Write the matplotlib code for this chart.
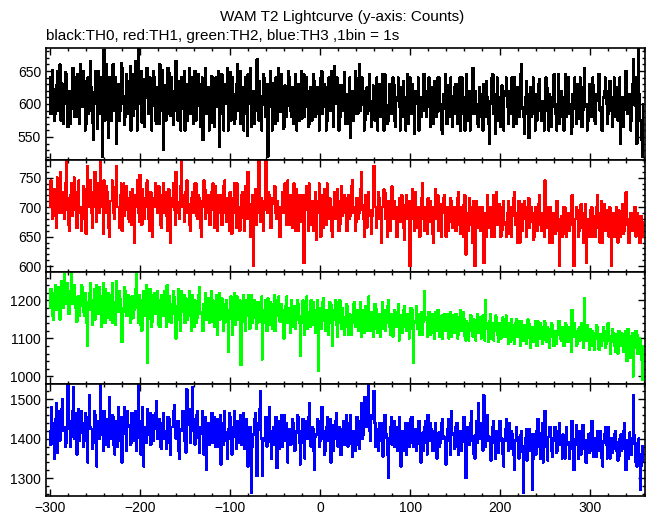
import numpy as np
import matplotlib
matplotlib.use("Agg")
import matplotlib.pyplot as plt
from matplotlib.ticker import MultipleLocator

plt.rcParams['font.family'] = ['Liberation Sans', 'DejaVu Sans']

# time bins (s), 1 s per bin, starting at -300 s
time_start = -300
time_step = 1

th0 = [640,585,598,652,622,575,585,628,650,590,610,660,575,632,630,570,600,648,645,595,565,620,618,570,592,655,655,580,605,640,
       580,645,628,570,660,612,596,650,612,560,570,635,640,585,590,665,625,572,545,618,615,650,600,562,650,595,585,640,520,610,
       682,575,620,660,598,548,640,615,575,652,660,590,605,640,540,610,630,575,590,662,655,600,612,568,580,645,635,585,600,658,
       560,628,645,582,618,665,592,560,685,615,600,650,572,630,638,565,610,655,655,585,585,640,625,560,598,650,640,575,570,625,
       612,570,660,615,590,652,530,600,628,575,605,655,648,585,582,640,620,568,598,660,665,590,575,635,615,560,640,610,592,650,
       560,630,622,575,600,655,585,620,640,570,612,650,575,610,598,645,630,565,590,640,545,610,610,655,585,600,625,560,600,642,
       572,640,618,565,640,598,595,650,535,600,608,645,585,560,630,600,600,655,560,620,648,575,592,640,615,570,578,630,660,590,
       598,650,570,615,625,560,605,640,585,552,645,600,600,655,565,620,620,570,590,648,668,600,575,635,612,560,598,645,640,585,
       580,630,520,598,615,650,595,560,632,605,570,640,605,575,655,598,588,645,610,562,565,628,625,580,598,650,640,590,580,625,
       612,570,590,645,560,610,630,575,600,650,578,615,645,580,595,640,620,565,570,625,608,575,590,645,635,580,585,625,615,560,
       600,640,650,585,595,630,625,560,575,620,640,590,610,650,590,565,658,605,600,640,620,560,580,628,628,590,605,648,570,615,
       612,570,595,640,548,605,620,575,600,650,640,585,585,615,660,590,598,640,610,560,575,620,625,585,590,645,605,565,580,628,
       618,575,592,640,560,610,630,580,600,645,585,560,645,610,598,570,575,630,615,585,590,640,630,575,565,610,605,640,595,560,
       625,580,580,635,600,560,610,645,570,605,640,585,595,630,585,555,620,605,600,640,560,610,610,580,590,645,645,590,580,620,
       605,640,595,565,625,600,570,635,610,580,588,640,640,590,600,560,555,615,615,645,592,570,628,600,580,640,600,565,612,625,
       585,630,625,570,600,640,560,610,640,585,598,560,610,645,575,605,620,560,590,630,655,585,585,620,600,570,565,625,615,580,
       598,560,630,605,580,635,610,570,540,600,605,640,645,585,590,555,615,640,575,610,600,565,628,595,560,620,612,640,595,570,
       620,590,585,640,600,565,640,600,570,625,605,580,592,645,660,595,580,555,610,635,598,585,548,615,625,580,600,640,585,560,
       615,575,592,630,638,590,575,605,605,560,590,640,625,590,560,615,610,565,598,635,645,595,585,560,600,645,570,610,620,580,
       595,560,610,645,580,600,640,585,600,555,565,615,615,640,592,570,630,600,578,640,605,565,590,625,655,595,600,560,575,630,
       612,580,590,640,628,575,570,615,605,645,645,590,595,560,560,610,620,640,600,570,585,620,635,590,598,565,610,640,580,600,
       625,575,595,640,540,600,610,565,600,640,650,590,585,615,615,560,575,630,668,600,598,640,540,590,685,615,575,545,520,600]

th1 = [700,745,735,680,685,730,720,665,750,705,690,740,760,690,705,725,680,740,780,695,715,670,660,720,740,685,695,750,725,680,
       665,725,745,690,700,660,680,735,730,690,655,710,770,700,710,745,690,665,725,700,760,715,675,740,715,690,780,705,700,655,
       745,700,690,735,725,665,650,710,710,745,735,690,680,720,770,700,700,665,720,740,660,710,740,685,695,735,715,680,675,725,
       705,670,730,720,640,700,720,745,690,675,755,710,670,730,715,680,700,740,745,690,680,660,725,700,650,715,700,740,735,690,
       690,735,710,670,665,720,740,690,700,725,685,660,730,705,640,700,715,740,695,670,760,710,705,690,680,735,780,700,720,675,
       690,725,745,690,705,670,660,715,725,690,700,740,740,685,680,720,715,665,650,710,700,745,730,680,690,715,720,670,670,725,
       710,740,695,665,735,700,660,720,705,690,720,670,690,735,745,695,675,715,700,660,725,690,655,710,715,740,690,665,740,700,
       700,660,680,720,725,690,660,735,715,680,760,705,695,650,705,720,600,700,730,670,690,720,780,695,675,715,710,660,695,735,
       780,700,690,725,720,665,665,715,705,735,735,690,680,710,700,650,650,700,725,690,690,740,710,670,745,705,670,720,700,665,
       715,740,685,660,730,705,660,720,700,675,690,720,605,690,720,735,695,660,740,700,670,710,705,660,690,725,645,690,710,740,
       690,650,720,705,665,730,705,670,740,690,680,715,700,660,650,700,725,680,695,730,710,660,670,705,735,685,690,720,705,660,
       660,715,720,680,685,735,745,690,700,660,675,715,715,680,690,730,760,695,680,650,705,720,665,700,725,685,695,655,685,720,
       770,700,700,665,680,725,715,680,640,700,700,730,725,680,690,650,710,695,660,715,735,680,685,710,700,650,650,700,715,675,
       690,720,705,665,645,700,720,680,680,710,600,680,710,730,690,660,725,700,665,690,700,650,680,715,740,685,660,700,695,655,
       715,680,675,710,700,655,640,700,730,680,685,720,660,690,705,650,690,715,720,670,650,700,695,660,675,715,710,665,665,700,
       700,660,680,715,725,670,655,700,690,650,705,720,620,690,685,660,715,700,670,640,695,710,600,680,710,665,680,700,660,690,
       700,665,605,690,690,650,720,685,665,700,685,650,700,720,650,690,725,670,680,705,695,650,660,700,710,670,675,650,690,710,
       655,690,700,650,685,715,725,670,670,640,690,710,640,690,705,660,680,710,695,650,665,700,715,665,675,700,690,645,650,700,
       700,660,680,705,720,670,660,690,690,650,745,680,665,700,685,640,700,680,640,690,690,655,675,710,710,660,600,680,685,650,
       665,700,700,655,650,690,690,660,675,710,720,670,600,675,680,700,695,650,660,690,705,665,675,640,690,705,605,675,680,650,
       660,695,700,650,685,670,650,700,720,665,670,640,690,710,640,680,705,660,665,695,680,650,700,675,600,680,690,650,665,700,
       675,640,695,665,650,690,705,655,660,700,725,670,680,640,640,690,690,660,670,700,700,650,655,690,685,640,640,685,675,650]

th2 = [1180,1230,1215,1160,1150,1220,1240,1175,1175,1235,1205,1150,1160,1250,1230,1180,1270,1200,1190,1245,1225,1165,1165,1215,1275,1190,1200,1240,1180,1145,
       1145,1210,1210,1160,1185,1240,1235,1170,1160,1220,1195,1140,1080,1175,1220,1245,1175,1135,1200,1230,1150,1205,1240,1165,1185,1235,1165,1130,1210,1245,
       1175,1140,1230,1200,1155,1220,1195,1150,1215,1245,1140,1195,1185,1135,1250,1205,1170,1225,1205,1150,1090,1170,1180,1235,1225,1160,1160,1215,1195,1140,
       1150,1210,1210,1155,1175,1230,1275,1180,1140,1215,1190,1135,1120,1200,1225,1160,1165,1240,1035,1150,1200,1230,1180,1130,1145,1215,1220,1165,1170,1225,
       1195,1135,1130,1200,1215,1160,1160,1225,1180,1130,1240,1190,1145,1210,1190,1140,1165,1225,1210,1155,1100,1180,1185,1230,1150,1120,1225,1185,1170,1215,
       1140,1205,1200,1150,1175,1225,1160,1120,1215,1185,1130,1200,1190,1140,1155,1215,1235,1165,1170,1125,1120,1190,1185,1220,1150,1195,1205,1140,1165,1225,
       1145,1200,1195,1130,1170,1215,1110,1175,1220,1150,1160,1205,1180,1120,1140,1190,1200,1145,1065,1160,1175,1210,1150,1110,1190,1220,1135,1185,1210,1150,
       1160,1200,1030,1150,1185,1215,1145,1120,1200,1160,1170,1215,1125,1175,1215,1140,1155,1200,1180,1125,1140,1195,1195,1145,1165,1210,1045,1140,1175,1200,
       1150,1120,1205,1170,1135,1195,1170,1125,1190,1215,1120,1165,1160,1200,1210,1145,1145,1190,1175,1120,1100,1165,1185,1210,1140,1180,1165,1115,1200,1160,
       1130,1185,1170,1125,1150,1200,1190,1140,1055,1150,1160,1200,1140,1110,1180,1210,1125,1170,1165,1130,1200,1155,1135,1195,1155,1115,1175,1200,1015,1140,
       1180,1125,1145,1195,1205,1150,1120,1175,1165,1110,1150,1195,1190,1140,1080,1150,1175,1200,1135,1105,1160,1195,1200,1140,1125,1180,1155,1110,1140,1190,
       1185,1130,1110,1165,1160,1110,1140,1190,1195,1145,1130,1175,1170,1120,1150,1195,1105,1150,1175,1115,1135,1185,1160,1120,1210,1165,1120,1170,1155,1105,
       1140,1190,1180,1125,1115,1165,1150,1105,1165,1195,1125,1150,1175,1120,1140,1185,1200,1130,1110,1165,1155,1105,1130,1175,1170,1130,1145,1190,1095,1140,
       1160,1115,1130,1175,1185,1130,1120,1165,1150,1100,1140,1180,1175,1125,1035,1140,1145,1185,1125,1160,1165,1110,1135,1170,1110,1145,1225,1155,1150,1105,
       1130,1170,1160,1110,1115,1165,1145,1100,1170,1140,1120,1175,1155,1105,1135,1160,1100,1140,1165,1120,1125,1165,1150,1100,1140,1170,1105,1150,1160,1115,
       1125,1165,1145,1100,1110,1155,1175,1120,1130,1170,1150,1105,1095,1145,1140,1095,1120,1160,1160,1115,1105,1150,1135,1095,1145,1165,1115,1130,1155,1100,
       1130,1160,1110,1095,1200,1140,1125,1090,1145,1165,1100,1135,1140,1095,1120,1160,1155,1110,1090,1140,1135,1100,1115,1155,1150,1105,1125,1160,1105,1085,
       1140,1090,1120,1150,1135,1095,1085,1140,1150,1105,1110,1145,1130,1080,1145,1120,1095,1135,1125,1085,1115,1150,1140,1100,1075,1125,1130,1090,1110,1145,
       1120,1080,1145,1105,1100,1140,1130,1085,1115,1145,1140,1095,1090,1130,1125,1075,1105,1140,1135,1090,1080,1120,1120,1085,1110,1145,1145,1100,1095,1130,
       1125,1080,1100,1140,1135,1090,1110,1130,1090,1065,1175,1115,1105,1140,1120,1080,1085,1125,1130,1095,1100,1140,1115,1075,1205,1110,1095,1135,1110,1070,
       1125,1085,1080,1120,1115,1070,1100,1135,1130,1090,1070,1110,1110,1080,1095,1130,1120,1075,1085,1120,1140,1095,1105,1060,1090,1125,1115,1080,1065,1110,
       1100,1060,1120,1090,1080,1115,1110,1065,1095,1120,1070,1040,1125,1085,1090,1050,1105,1115,1000,1075,1085,1120,1110,1060,1060,1100,1095,1045,990,1080]

th3 = [1420,1385,1480,1440,1395,1350,1450,1490,1365,1430,1470,1395,1410,1475,1500,1420,1430,1380,1390,1455,1535,1425,1445,1380,1405,1470,1530,1400,1420,1465,
       1360,1440,1475,1395,1415,1470,1440,1380,1395,1465,1455,1405,1340,1425,1510,1430,1425,1375,1400,1470,1460,1390,1330,1420,1445,1400,1535,1455,1410,1370,
       1470,1400,1385,1450,1440,1380,1505,1430,1400,1460,1455,1385,1360,1445,1425,1380,1480,1420,1395,1455,1340,1410,1445,1480,1415,1370,1470,1435,1430,1385,
       1390,1465,1455,1395,1420,1470,1370,1420,1535,1440,1400,1360,1445,1480,1330,1410,1430,1390,1475,1420,1410,1465,1385,1420,1460,1395,1425,1465,1495,1400,
       1405,1450,1440,1380,1375,1430,1465,1400,1420,1375,1395,1455,1450,1390,1360,1430,1430,1470,1485,1405,1400,1445,1445,1370,1350,1425,1420,1470,1470,1395,
       1410,1365,1525,1440,1435,1475,1390,1420,1530,1445,1450,1385,1400,1460,1470,1405,1365,1430,1430,1470,1410,1360,1455,1410,1320,1430,1440,1385,1400,1455,
       1465,1390,1420,1455,1380,1425,1450,1380,1410,1460,1335,1420,1440,1385,1470,1415,1395,1350,1425,1465,1455,1400,1360,1425,1430,1470,1405,1375,1445,1415,
       1390,1440,1460,1385,1420,1465,1375,1430,1450,1390,1330,1415,1430,1350,1262,1380,1410,1450,1465,1395,1305,1420,1440,1475,1520,1400,1305,1395,1400,1445,
       1455,1380,1390,1445,1480,1410,1350,1420,1430,1385,1405,1455,1325,1400,1445,1375,1415,1460,1380,1410,1460,1395,1400,1440,1340,1405,1425,1385,1395,1450,
       1440,1385,1370,1420,1415,1460,1455,1390,1335,1400,1420,1450,1390,1350,1445,1410,1400,1455,1490,1400,1380,1430,1425,1370,1320,1405,1410,1450,1440,1380,
       1395,1445,1480,1400,1420,1360,1370,1430,1455,1395,1410,1450,1340,1400,1435,1370,1400,1445,1465,1390,1380,1430,1425,1360,1360,1420,1445,1385,1405,1460,
       1430,1380,1385,1440,1460,1395,1355,1420,1420,1370,1400,1455,1445,1385,1375,1430,1490,1400,1410,1470,1505,1430,1430,1500,1538,1420,1395,1460,1450,1510,
       1520,1440,1380,1425,1420,1370,1440,1400,1395,1440,1355,1400,1460,1410,1410,1360,1300,1400,1430,1455,1385,1420,1445,1380,1400,1430,1370,1415,1455,1390,
       1330,1400,1420,1370,1395,1440,1360,1405,1440,1380,1405,1450,1455,1390,1380,1425,1425,1370,1400,1440,1445,1385,1340,1405,1415,1370,1430,1445,1390,1360,
       1460,1410,1395,1440,1425,1370,1370,1420,1440,1385,1350,1410,1415,1380,1390,1440,1450,1400,1405,1360,1335,1395,1425,1450,1395,1360,1470,1415,1410,1375,
       1380,1430,1440,1380,1360,1415,1420,1370,1400,1445,1455,1390,1300,1380,1430,1400,1385,1440,1470,1395,1405,1360,1350,1410,1445,1390,1490,1420,1400,1440,
       1415,1370,1510,1430,1380,1420,1460,1395,1405,1360,1345,1405,1430,1445,1390,1350,1420,1400,1365,1410,1445,1395,1400,1360,1330,1395,1425,1450,1395,1370,
       1440,1395,1375,1420,1410,1360,1320,1395,1430,1405,1395,1350,1365,1410,1420,1380,1262,1350,1400,1425,1345,1390,1425,1370,1385,1410,1270,1350,1410,1380,
       1360,1420,1450,1380,1390,1350,1415,1440,1340,1395,1470,1400,1380,1345,1405,1430,1430,1370,1355,1400,1395,1430,1420,1365,1370,1400,1440,1385,1385,1350,
       1410,1370,1350,1400,1430,1385,1390,1350,1375,1420,1445,1380,1320,1395,1400,1435,1385,1350,1420,1390,1360,1400,1435,1375,1395,1340,1340,1395,1410,1365,
       1380,1415,1445,1370,1355,1400,1400,1355,1420,1385,1370,1420,1395,1350,1330,1390,1410,1430,1385,1350,1430,1390,1350,1400,1400,1365,1375,1410,1420,1370,
       1390,1345,1355,1400,1410,1370,1375,1420,1440,1380,1320,1395,1395,1350,1415,1385,1360,1400,1510,1410,1385,1340,1330,1390,1400,1360,1270,1330,1380,1345]

series = [th0, th1, th2, th3]
colors = ['#000000', '#ff0000', '#00ff00', '#0000ff']
ylims = [(515, 685), (590, 780), (980, 1275), (1255, 1538)]
ymajor = [50, 50, 100, 100]
yminor = [10, 10, 20, 20]
xticks = [-300, -200, -100, 0, 100, 200, 300]

title = "WAM T2 Lightcurve (y-axis: Counts)"
subtitle = "black:TH0, red:TH1, green:TH2, blue:TH3 ,1bin = 1s"

W, H = 652, 515
fig = plt.figure(figsize=(W / 100, H / 100), dpi=100)
left, right = 46, 645
tops = [48, 160, 272, 384]
ph = 112

for i, (vals, col) in enumerate(zip(series, colors)):
    ax = fig.add_axes([left / W, 1 - (tops[i] + ph) / H, (right - left) / W, ph / H])
    t = time_start + time_step * np.arange(len(vals))
    ax.plot(t, vals, color=col, lw=1.0, drawstyle='steps-mid', antialiased=False)
    ax.set_xlim(-304.5, 361)
    ax.set_ylim(*ylims[i])
    ax.xaxis.set_major_locator(MultipleLocator(100))
    ax.xaxis.set_minor_locator(MultipleLocator(20))
    ax.yaxis.set_major_locator(MultipleLocator(ymajor[i]))
    ax.yaxis.set_minor_locator(MultipleLocator(yminor[i]))
    ax.tick_params(which='both', direction='in', top=True, right=True, labelsize=10, width=1)
    ax.tick_params(which='major', length=5)
    ax.tick_params(which='minor', length=2.5)
    for s in ax.spines.values():
        s.set_linewidth(1.2)
        s.set_zorder(5)
    if i < 3:
        ax.tick_params(labelbottom=False)
    else:
        ax.set_xticks(xticks)

fig.text(342 / W, 1 - 21 / H, title, ha='center', va='baseline', fontsize=11)
fig.text(46 / W, 1 - 40 / H, subtitle, ha='left', va='baseline', fontsize=11)

fig.savefig('out.png', dpi=100)
